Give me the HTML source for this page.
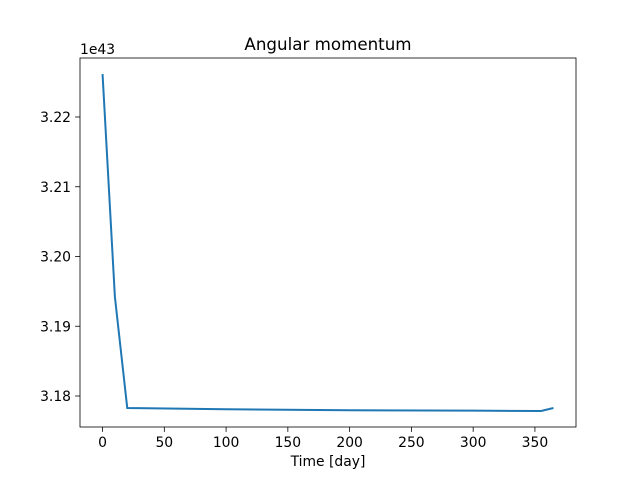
<!DOCTYPE html>
<html><head><meta charset="utf-8"><style>body{margin:0;background:#fff}svg{display:block;font-family:"DejaVu Sans","Liberation Sans",sans-serif}</style></head>
<body>
<svg id="c" width="640" height="480"></svg>
<script>
const xData=[0,10,20,100,200,300,355,365];
const yData=[3.22616,3.1942,3.17828,3.1781,3.17795,3.1779,3.17785,3.17828];
const xTicks=[0,50,100,150,200,250,300,350];
const yTicks=[3.18,3.19,3.20,3.21,3.22];
const yTickLabels=["3.18","3.19","3.20","3.21","3.22"];
const L=80,R=576,T=58,B=427;
const xmin=-18.25,xmax=383.25;
const sx=v=>L+(v-xmin)/(xmax-xmin)*(R-L);
const sy=v=>396-(v-3.18)/0.01*69.75;
const svg=document.getElementById('c');
const NS='http://www.w3.org/2000/svg';
function mk(t,a,txt){const e=document.createElementNS(NS,t);for(const k in a)e.setAttribute(k,a[k]);if(txt!==undefined)e.textContent=txt;svg.appendChild(e);return e;}
let e=mk('rect',{x:L,y:T,width:R-L,height:B-T,fill:'none',stroke:'#000','stroke-width':0.8});


xTicks.forEach(v=>{const x=sx(v);
 let t=mk('line',{x1:x,x2:x,y1:B,y2:B+4.9,stroke:'#000','stroke-width':0.8});
 
 
 let l=mk('text',{x:x,y:B+20,'font-size':13.9,'text-anchor':'middle'},String(v));
 
 });
yTicks.forEach((v,i)=>{const y=sy(v);
 let t=mk('line',{x1:L-4.9,x2:L,y1:y,y2:y,stroke:'#000','stroke-width':0.8});
 
 
 let l=mk('text',{x:L-9,y:y+5,'font-size':13.9,'text-anchor':'end'},yTickLabels[i]);
 
 });
e=mk('text',{x:L,y:T-4,'font-size':13.9},'1e43');


e=mk('text',{x:(L+R)/2,y:T-8,'font-size':16.7,'text-anchor':'middle'},'Angular momentum');


e=mk('text',{x:(L+R)/2,y:B+39,'font-size':13.9,'text-anchor':'middle'},'Time [day]');


e=mk('polyline',{points:xData.map((x,i)=>sx(x)+','+sy(yData[i])).join(' '),fill:'none',stroke:'#1f77b4','stroke-width':2});


</script>
</body></html>
